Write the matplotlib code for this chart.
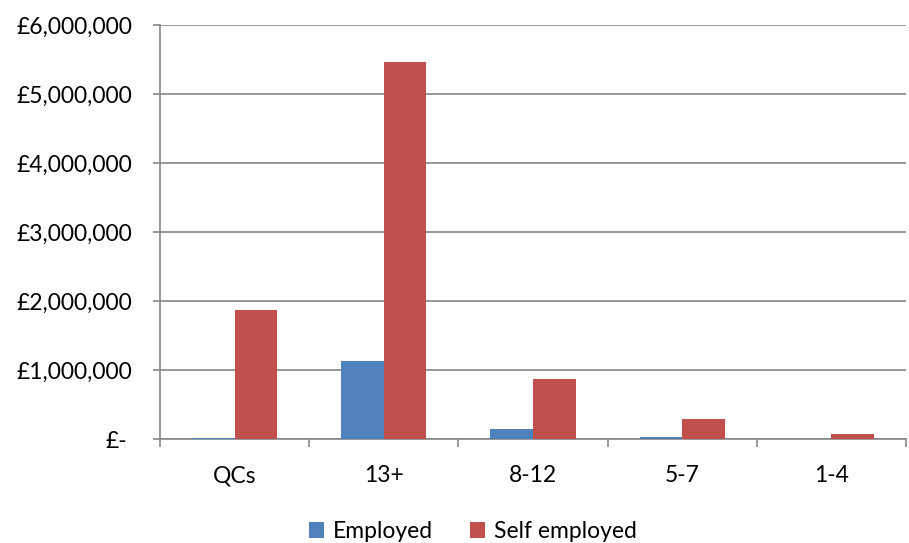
import numpy as np
import matplotlib.pyplot as plt
from matplotlib.ticker import FuncFormatter, FixedLocator
from matplotlib.transforms import ScaledTranslation

categories = ["QCs", "13+", "8-12", "5-7", "1-4"]
employed = [20000, 1135000, 140000, 33000, 5000]
self_employed = [1870000, 5460000, 865000, 285000, 72000]

plt.rcParams['font.family'] = ['Lato', 'DejaVu Sans']
plt.rcParams['font.size'] = 16.5

fig = plt.figure(figsize=(9.09, 5.43), dpi=100)
ax = fig.add_axes([0.176, 0.1915, 0.8207, 0.7625])

x = np.arange(len(categories))
w = 1 / 3.5
ax.bar(x - w / 2, employed, w, color="#4F81BD", label="Employed", zorder=3)
ax.bar(x + w / 2, self_employed, w, color="#C0504D", label="Self employed", zorder=3)

ax.set_xlim(-0.5, len(categories) - 0.5)
ax.set_ylim(0, 6000000)
ax.set_yticks(np.arange(0, 6000001, 1000000))

def money(v, pos):
    if v == 0:
        return "£-"
    return "£{:,.0f}".format(v)

ax.yaxis.set_major_formatter(FuncFormatter(money))
ax.grid(axis="y", color="#868686", linewidth=1.2, zorder=0)

# category labels between boundary ticks
ax.set_xticks(x)
ax.set_xticklabels(categories)
ax.tick_params(axis="x", which="major", length=0, pad=19)
ax.xaxis.set_minor_locator(FixedLocator(np.arange(-0.5, len(categories), 1.0)))
ax.tick_params(axis="x", which="minor", length=6, width=1.2, color="#868686")
ax.tick_params(axis="y", length=5, width=1.2, color="#868686", pad=15)

for s in ["top", "right"]:
    ax.spines[s].set_visible(False)
for s in ["left", "bottom"]:
    ax.spines[s].set_color("#868686")
    ax.spines[s].set_linewidth(1.2)

# accounting style: the dash for zero sits a bit left of the other labels
fig.canvas.draw()
zero_label = ax.yaxis.get_major_ticks()[0].label1
zero_label.set_transform(zero_label.get_transform() + ScaledTranslation(-0.05, 0, fig.dpi_scale_trans))

fig.legend(loc="lower center", bbox_to_anchor=(0.52, -0.036), ncol=2, frameon=False,
           handlelength=0.65, handleheight=0.65, handletextpad=0.4, columnspacing=1.6)

fig.savefig("out.png", dpi=100)
